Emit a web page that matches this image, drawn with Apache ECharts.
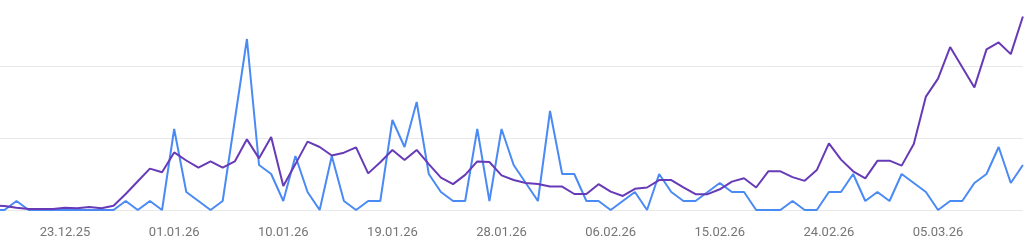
<!DOCTYPE html>
<html>
<head>
<meta charset="utf-8">
<script src="https://cdn.jsdelivr.net/npm/echarts@6/dist/echarts.min.js"></script>
<style>
html,body{margin:0;padding:0;background:#fff;overflow:hidden;width:1024px;height:249px;}
#chart{position:absolute;left:-8px;top:-6px;width:1033px;height:255px;}
</style>
</head>
<body>
<div id="chart"></div>
<script>
// Dates from 17.12.25 to 12.03.26 (daily)
const startDate = [2025, 11, 17];
const dayCount = 86;
const labelEvery = 9;
const firstLabelIndex = 6;

const purpleValues = [0.5,0.45,0.25,0.1,0.1,0.1,0.25,0.2,0.33,0.2,
  0.48,1.78,3.2,4.6,4.2,6.4,5.5,4.7,5.4,4.7,
  5.4,7.85,5.74,8.1,2.67,5.1,7.6,7.0,6.05,6.37,
  6.96,4.07,5.3,6.67,5.56,6.67,5.1,3.6,2.88,3.9,
  5.4,5.33,3.85,3.33,3.0,2.89,2.6,2.6,1.78,1.78,
  2.87,2.04,1.56,2.35,2.5,3.33,3.33,2.52,1.76,1.76,
  2.3,3.15,3.52,2.5,4.3,4.3,3.65,3.24,4.44,7.4,
  5.6,4.3,3.52,5.46,5.48,4.93,7.33,12.6,14.6,18.1,
  15.85,13.62,17.85,18.62,17.32,21.5];

const blueValues = [0,0,1,0,0,0,0,0,0,0,
  0,1,0,1,0,9,2,1,0,1,
  10,19,5,4,1,6,2,0,6,1,
  0,1,1,10,7,12,4,2,1,1,
  9,1,9,5,3,1,11,4,4,1,
  1,0,1,2,0,4,2,1,1,2,
  3,2,2,0,0,0,1,0,0,2,
  2,4,1,2,1,4,3,2,0,1,
  1,3,4,7,3,5];

function pad(n){return (n<10?'0':'')+n;}
const categories = [];
for (let i = 0; i < dayCount; i++) {
  const d = new Date(startDate[0], startDate[1], startDate[2] + i);
  categories.push(pad(d.getDate()) + '.' + pad(d.getMonth()+1) + '.' + String(d.getFullYear()).slice(2));
}

const chart = echarts.init(document.getElementById('chart'), null, {renderer:'canvas'});
chart.setOption({
  animation: false,
  grid: {left: 0.3, right: 2.1, top: 0, bottom: 39, containLabel: false},
  xAxis: {
    type: 'category',
    data: categories,
    boundaryGap: false,
    axisLine: {show: false},
    axisTick: {show: false},
    splitLine: {show: false},
    axisLabel: {
      interval: function(index){ return (index - firstLabelIndex) % labelEvery === 0 && index >= firstLabelIndex; },
      color: '#757575',
      fontFamily: 'Roboto',
      fontSize: 13,
      margin: 16
    }
  },
  yAxis: {
    type: 'value',
    min: 0, max: 24, interval: 8,
    axisLabel: {show: false},
    axisLine: {show: false},
    axisTick: {show: false},
    splitLine: {lineStyle: {color: '#e8e8e8', width: 1}}
  },
  series: [
    {type: 'line', data: blueValues, symbol: 'none', lineStyle: {color: '#4a8af4', width: 2}, itemStyle:{color:'#4a8af4'}},
    {type: 'line', data: purpleValues, symbol: 'none', lineStyle: {color: '#673ab7', width: 2}, itemStyle:{color:'#673ab7'}}
  ]
});
</script>
</body>
</html>
